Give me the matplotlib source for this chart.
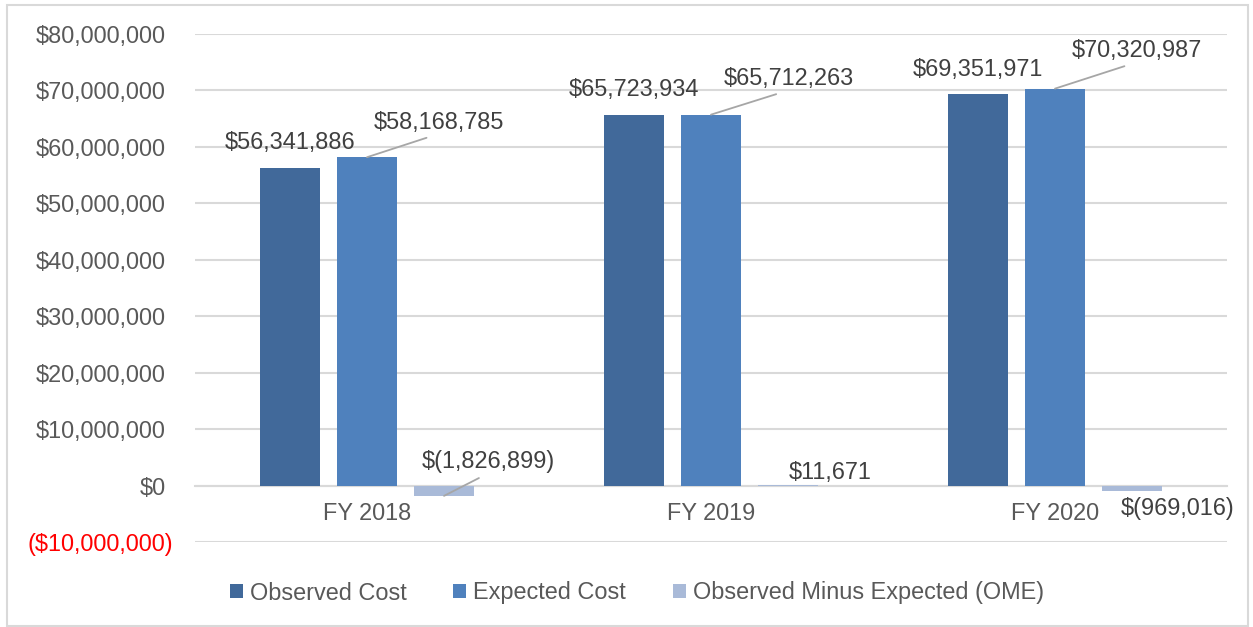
import matplotlib
matplotlib.use("Agg")
import matplotlib.pyplot as plt
from matplotlib.patches import Rectangle
from matplotlib.transforms import ScaledTranslation
import matplotlib.ticker as mticker
import numpy as np

plt.rcParams['font.family'] = ['Liberation Sans', 'DejaVu Sans']

categories = ["FY 2018", "FY 2019", "FY 2020"]
observed = [56341886, 65723934, 69351971]
expected = [58168785, 65712263, 70320987]
ome = [-1826899, 11671, -969016]
series_names = ["Observed Cost", "Expected Cost", "Observed Minus Expected (OME)"]
yticks = [-10000000, 0, 10000000, 20000000, 30000000, 40000000,
          50000000, 60000000, 70000000, 80000000]

c_obs = "#41699A"
c_exp = "#4F81BD"
c_ome = "#A9BAD8"
txt = "#595959"
lab = "#404040"
grid = "#D9D9D9"
FS = 16.9

fig = plt.figure(figsize=(12.53, 6.27), dpi=100)
ax = fig.add_axes([195/1253, 1-542/627, (1227-195)/1253, (542-34)/627])

x = np.arange(len(categories))
w = 0.174
step = 0.224
b1 = ax.bar(x - step, observed, w, color=c_obs, label=series_names[0], zorder=3)
b2 = ax.bar(x, expected, w, color=c_exp, label=series_names[1], zorder=3)
b3 = ax.bar(x + step, ome, w, color=c_ome, label=series_names[2], zorder=3)

ax.set_xlim(-0.5, 2.5)
ax.set_ylim(-10000000, 80000000)
ax.set_yticks(yticks)

def fmt(v, pos=None):
    if v < 0:
        return "(${:,.0f})".format(-v)
    return "${:,.0f}".format(v)
ax.yaxis.set_major_formatter(mticker.FuncFormatter(fmt))
ax.yaxis.grid(True, color=grid, linewidth=1.5, zorder=0)
ax.set_axisbelow(True)
for s in ["left", "right", "top"]:
    ax.spines[s].set_visible(False)
ax.spines["bottom"].set_position(("data", 0))
ax.spines["bottom"].set_color(grid)
ax.spines["bottom"].set_linewidth(1.5)
ax.spines["bottom"].set_zorder(2)
ax.tick_params(axis="y", length=0, pad=21, labelsize=FS, labelcolor=txt)
ax.tick_params(axis="x", length=0, pad=12, labelsize=FS, labelcolor=txt)
ax.set_xticks(x)
ax.set_xticklabels(categories)

fig.canvas.draw()
for t, v in zip(ax.get_yticklabels(), yticks):
    if v < 0:
        t.set_color("red")
        t.set_transform(t.get_transform() + ScaledTranslation(7/100, 0, fig.dpi_scale_trans))

# data labels
def label(xv, yv, text, dx, dy, line=False):
    kw = {}
    if line:
        kw["arrowprops"] = dict(arrowstyle="-", color="#A6A6A6", lw=1.3,
                                relpos=(0.5, 0.0), shrinkA=3, shrinkB=0)
    ax.annotate(text, xy=(xv, yv), xytext=(dx, dy), textcoords="offset pixels",
                ha="center", va="center", fontsize=FS, color=lab, zorder=5, **kw)

for i in range(3):
    label(x[i] - step, observed[i], fmt(observed[i]), 0, 25)

exp_off = [(72, 35), (78, 36), (82, 38)]
for i in range(3):
    label(x[i], expected[i], fmt(expected[i]), exp_off[i][0], exp_off[i][1], line=True)

def fmt_ome(v):
    if v < 0:
        return "$({:,.0f})".format(-v)
    return "${:,.0f}".format(v)

ome_off = [(44, 34, True), (42, 13, False), (46, -17, False)]
for i in range(3):
    dx, dy, ln = ome_off[i]
    label(x[i] + step, ome[i], fmt_ome(ome[i]), dx, dy, line=ln)

leg = fig.legend(handles=[b1, b2, b3], loc="center", bbox_to_anchor=(637/1253, 1-593/627),
                 ncol=3, frameon=False, fontsize=FS, handlelength=0.55, handleheight=0.55,
                 handletextpad=0.3, columnspacing=2.0)
for t in leg.get_texts():
    t.set_color(txt)

fig.patches.append(Rectangle((7/1253, 1/627), (1248-7)/1253, (622-1)/627,
                             transform=fig.transFigure, fill=False,
                             edgecolor=grid, linewidth=1.5))

fig.savefig("out.png", dpi=100)
